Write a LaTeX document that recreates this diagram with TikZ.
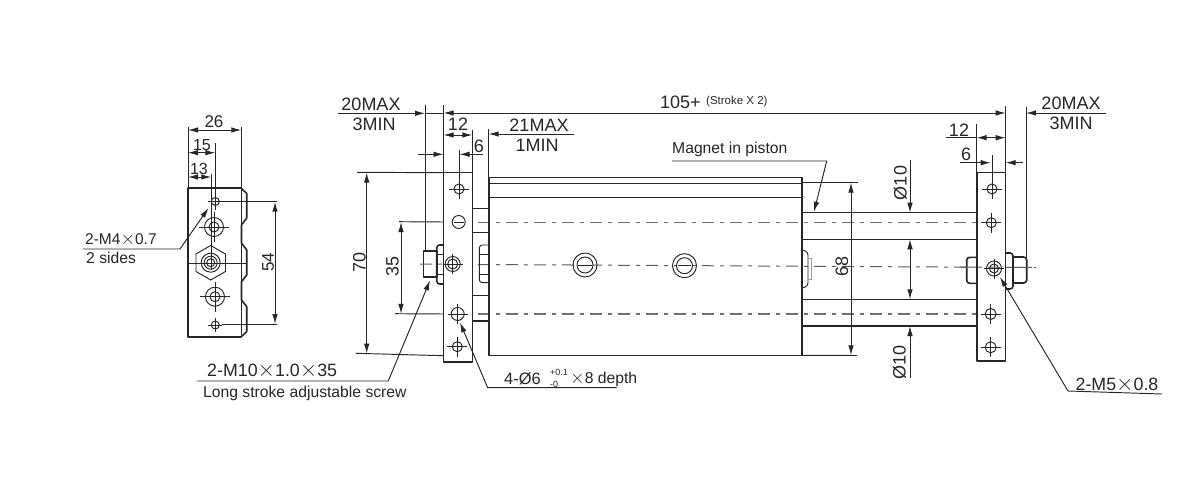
\documentclass[tikz,border=0pt]{standalone}
\usepackage{fontspec}
\setmainfont{Liberation Sans}
\usetikzlibrary{arrows.meta}
\definecolor{ink}{HTML}{262626}
\tikzset{
  x=1pt,y=-1pt,
  ln/.style={draw=ink,line width=0.95pt},
  bold/.style={draw=ink,line width=1.6pt,line join=round},
  rod/.style={draw=ink,line width=1.3pt},
  thin/.style={draw=ink,line width=0.7pt},
  cen/.style={draw=ink!65,line width=1.3pt,dash pattern=on 12pt off 6pt on 4pt off 6pt},
  cenmid/.style={draw=ink!75,line width=1pt,dash pattern=on 12pt off 6pt on 4pt off 6pt},
  dim/.style={ln,{Latex[length=10pt,width=5.5pt]}-{Latex[length=10pt,width=5.5pt]}},
  tipe/.style={ln,-{Latex[length=10pt,width=5.5pt]}},
  big/.style={inner sep=0pt,text=ink,font=\fontsize{18}{18}\selectfont},
  small/.style={inner sep=0pt,text=ink,font=\fontsize{15.7}{15.7}\selectfont},
  vert/.style={big,rotate=90},
}
\newcommand{\crosshole}[4]{% x y r arm
  \draw[ln] (#1,#2) circle[radius=#3];
  \draw[thin] (#1-#4,#2) -- (#1+#4,#2) (#1,#2-#4) -- (#1,#2+#4);
}
\newcommand{\mult}{\scalebox{1.3}{$\times$}}
\begin{document}
\begin{tikzpicture}
\useasboundingbox (0,0) rectangle (1200,500);
\fill[white] (0,0) rectangle (1200,500);

% ===== left end view =====
\draw[bold] (188,188) -- (241,188) -- (246.7,193.5) -- (246.7,218) -- (241.5,225) -- (241.5,243) -- (246.7,250)
  -- (246.7,275) -- (241.5,281.7) -- (241.5,300) -- (246.7,306.7) -- (246.7,331.7) -- (241,337) -- (188,337) -- cycle;
\draw[ln] (188,263) -- (246.7,263);
\draw[ln] (241.3,127) -- (241.3,335);
\draw[ln] (188,127) -- (188,188);
\draw[ln] (215.3,143) -- (215.3,210);
\draw[ln] (211.3,174) -- (211.3,270);
\crosshole{215.3}{201.5}{4}{7}
\crosshole{214}{227}{9.5}{15}
\draw[ln] (214,227) circle[radius=5];
\draw[ln] (210.7,245.5) -- (225.5,254) -- (225.5,271.5) -- (210.7,280) -- (196,271.5) -- (196,254) -- cycle;
\draw[ln] (210.7,262.7) circle[radius=9.5];
\draw[ln] (210.7,262.7) circle[radius=6.5];
\draw[ln] (210.7,262.7) circle[radius=4];
\crosshole{215}{296.7}{9.5}{15}
\draw[ln] (215,296.7) circle[radius=5];
\crosshole{215.3}{325}{4}{7}
\draw[ln] (222,201.7) -- (277,201.7) (222,324) -- (277,324);
\draw[dim] (188,130) -- (241.3,130);
\draw[dim] (188,152.7) -- (215.3,152.7);
\draw[dim] (188,177) -- (211.3,177);
\draw[dim] (275,201.7) -- (275,324);
\node[big,font=\fontsize{17}{17}\selectfont] (t26) at (214,122) {26};
\node[big,font=\fontsize{16}{16}\selectfont] (t15) at (202,145) {15};
\node[big,font=\fontsize{16}{16}\selectfont] (t13) at (199,169) {13};
\node[vert,font=\fontsize{17}{17}\selectfont] (t54) at (268,262) {54};
\draw[tipe] (83,249) -- (180,249) -- (208.5,208);
\node[big,anchor=west,font=\fontsize{15.5}{15.5}\selectfont] (tm4) at (85,240) {2-M4\mult0.7};
\node[small,anchor=west] (tm4b) at (86,258) {2 sides};

% ===== centre lines =====
\draw[cen] (478,222.5) -- (988,222.5);
\draw[cenmid] (478,264.5) -- (1036,267.5);
\draw[cen] (478,314) -- (988,314);

% ===== main body =====
\draw[bold] (488.7,177.5) -- (802,177.5) -- (802,355.5) -- (488.7,355.5) -- cycle;
\draw[ln] (488.7,183.5) -- (802,183.5);
\draw[ln] (488.7,197.7) -- (802,197.7);
\draw[ln] (585,265) circle[radius=12];
\draw[ln,fill=white] (585,265) circle[radius=8];
\draw[thin] (578,265) -- (592,265);
\draw[ln] (684.5,265.7) circle[radius=12];
\draw[ln,fill=white] (684.5,265.7) circle[radius=8];
\draw[thin] (678,265.7) -- (691,265.7);

% ===== left plate, stop block, bolts =====
\draw[bold] (472.5,208.3) rectangle (488.7,321);
\draw[ln,line width=1.3pt] (472.5,232.7) -- (488.7,232.7) (472.5,295.7) -- (488.7,295.7);
\draw[ln,rounded corners=3pt] (488.7,245) -- (479.3,245) -- (479.3,282.7) -- (488.7,282.7);
\draw[thin] (479.3,254) -- (488.7,254) (479.3,274) -- (488.7,274);
\draw[bold,fill=white] (443.5,172.7) rectangle (472.5,361.7);
\draw[bold] (423.5,250.7) rectangle (436.7,276.7);
\draw[bold,rounded corners=3pt] (443.5,245) -- (436.7,245) -- (436.7,284) -- (443.5,284);
\draw[thin] (436.7,254) -- (443.5,254) (436.7,274) -- (443.5,274);
\crosshole{459}{189}{5}{10}
\draw[ln] (458.7,222) circle[radius=6.5];
\draw[thin] (454,222) -- (463.5,222);
\crosshole{452.7}{264}{5}{10}
\draw[ln] (452.7,264) circle[radius=7.5];
\crosshole{457.7}{314}{6.5}{10}
\crosshole{457.3}{346.7}{5}{10}

% ===== rods, right plate =====
\draw[rod] (802,212.7) -- (976.7,212.7) (802,239.3) -- (976.7,239.3);
\draw[rod] (802,299.3) -- (976.7,299.3) (802,326) -- (976.7,326);
\draw[ln,rounded corners=3pt] (802,250) -- (808,252) -- (808,286) -- (802,288);
\draw[ln,draw=ink!45] (808,258) -- (811.7,258) -- (811.7,279) -- (808,279);
\draw[bold,fill=white] (976.7,172.7) rectangle (1005.5,361);
\draw[bold,rounded corners=3pt] (976.7,257.3) -- (966.7,257.3) -- (966.7,283.3) -- (976.7,283.3);
\draw[bold,rounded corners=3pt] (1005.5,253) -- (1013,253) -- (1013,289) -- (1005.5,289);
\draw[bold,rounded corners=3pt] (1013,257) -- (1026.7,257) -- (1026.7,283) -- (1013,283);
\crosshole{992}{189}{5}{10}
\crosshole{991.3}{222.7}{5}{10}
\crosshole{994}{268.5}{4.5}{10}
\draw[ln] (994,268.5) circle[radius=7.5];
\crosshole{990.7}{314}{5.5}{10}
\crosshole{990.7}{347.3}{5.5}{10}
\draw[cenmid] (420,264) -- (443,264.2);
\draw[cenmid] (960,267) -- (1036,267.5);

% ===== top dimensions =====
\draw[ln] (425,105) -- (425,250);
\draw[ln] (443.5,105) -- (443.5,172.7);
\draw[ln] (472.3,130) -- (472.3,172.7);
\draw[ln] (488.7,129) -- (488.7,177.5);
\draw[ln] (459,150) -- (459,184);
\draw[tipe] (338,113.3) -- (425,113.3);
\draw[dim] (443.5,113) -- (1005.7,113);
\draw[ln] (425,113.3) -- (443.5,113.3);
\draw[ln] (1005.7,106) -- (1005.7,172.7);
\draw[ln] (1026,107) -- (1026,258);
\draw[tipe] (1105.7,113) -- (1026,113);
\draw[dim] (443.5,135) -- (472.3,135);
\draw[tipe] (574,134) -- (488.7,134);
\draw[tipe] (418,154.3) -- (443.5,154.3);
\draw[tipe] (483,154.3) -- (459.5,154.3);
\draw[ln] (976.7,123.7) -- (976.7,172.7);
\draw[ln] (992,155) -- (992,184);
\draw[ln] (945.7,137.7) -- (976.7,137.7);
\draw[dim] (976.7,137.7) -- (1005.7,137.7);
\draw[tipe] (960,162.7) -- (990.7,162.7);
\draw[tipe] (1022.7,162.7) -- (1005.7,162.7);

\node[big] (t20a) at (371,104) {20MAX};
\node[big] (t3a) at (374,124) {3MIN};
\node[big] (t12a) at (458,124) {12};
\node[big] (t6a) at (479,146) {6};
\node[big] (t21) at (539,125) {21MAX};
\node[big] (t1) at (537,145) {1MIN};
\node[big,anchor=west] (t105) at (660,102) {105+};
\node[inner sep=0pt,text=ink,anchor=west,font=\fontsize{11.5}{11.5}\selectfont] (tst) at (706,102) {(Stroke X 2)};
\node[big] (t20b) at (1071,103) {20MAX};
\node[big] (t3b) at (1071,123) {3MIN};
\node[big] (t12b) at (959,130) {12};
\node[big] (t6b) at (966,154) {6};

% ===== vertical dimensions =====
\draw[ln] (357,172.3) -- (443.5,172.7);
\draw[ln] (355.7,353.3) -- (443.5,355.7);
\draw[dim] (366.7,172.6) -- (366.7,353.6);
\draw[ln] (399,221.7) -- (443.5,222);
\draw[ln] (395,313.7) -- (443.5,314);
\draw[dim] (401,222) -- (401,313.8);
\node[vert] (t70) at (359.5,262) {70};
\node[vert] (t35) at (392.5,266) {35};

\draw[ln] (802,182.5) -- (858,182.5);
\draw[ln] (802,355.3) -- (857,355.5);
\draw[dim] (851,182.7) -- (851,355.3);
\node[vert] (t68) at (842,266) {68};

\draw[tipe] (910,160) -- (910,212.7);
\draw[tipe] (910,268) -- (910,239.3);
\draw[tipe] (910,268) -- (910,299.3);
\draw[tipe] (910,378) -- (910,326);
\node[vert] (tdia1) at (900.5,183) {Ø10};
\node[vert] (tdia2) at (899.5,362) {Ø10};

% ===== leaders =====
\node[small,anchor=west] (tmag) at (672,149) {Magnet in piston};
\draw[tipe] (672,161) -- (826.7,161) -- (814,211.7);
\draw[tipe] (197,381) -- (388.3,381) -- (430,280.5);
\node[big,anchor=west,font=\fontsize{17.8}{17.8}\selectfont] (tm10) at (207,371) {2-M10\mult1.0\mult35};
\node[small,anchor=west] (tlong) at (203,393.5) {Long stroke adjustable screw};
\draw[tipe] (616.7,387.7) -- (487.7,387.7) -- (460,322.5);
\node[big,anchor=west,font=\fontsize{16.5}{16.5}\selectfont] (t4) at (504,379) {4-Ø6};
\node[inner sep=0pt,text=ink,anchor=west,font=\fontsize{9}{9}\selectfont] (t4p) at (550,372) {+0.1};
\node[inner sep=0pt,text=ink,anchor=west,font=\fontsize{9}{9}\selectfont] (t4m) at (550,384.5) {-0};
\node[small,anchor=west] (t4r) at (570,379) {\mult8 depth};
\draw[tipe] (1162,394) -- (1068,391) -- (1000,277);
\node[big,font=\fontsize{17.8}{17.8}\selectfont] (tm5) at (1117,385) {2-M5\mult0.8};
\end{tikzpicture}
\end{document}
